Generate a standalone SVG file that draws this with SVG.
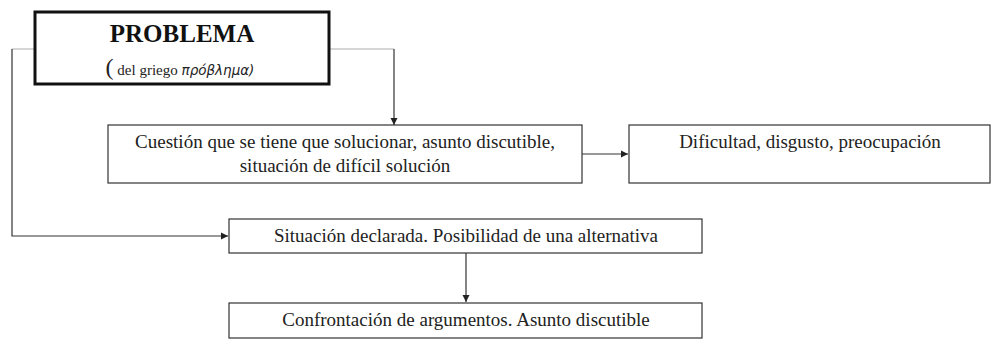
<svg xmlns="http://www.w3.org/2000/svg" width="992" height="344" viewBox="0 0 992 344">
<style>
.box{fill:#fff;stroke:#333;stroke-width:1.2}
.t{font-family:"Liberation Serif",serif;font-size:19px;fill:#222;text-anchor:middle}
.c{fill:none;stroke:#333;stroke-width:1.2}
.cl{fill:none;stroke:#c8c8c8;stroke-width:1.5}
</style>
<defs>
<marker id="a" markerWidth="8" markerHeight="8" refX="7" refY="4" orient="auto" markerUnits="userSpaceOnUse">
<path d="M0,0.5 L7,4 L0,7.5 Z" fill="#222"/>
</marker>
</defs>
<g id="connectors">
<path class="cl" d="M35,49 H12"/>
<path class="c" d="M12,49 V236 H228" marker-end="url(#a)"/>
<path class="cl" d="M329,49 H394"/>
<path class="c" d="M394,49 V125" marker-end="url(#a)" stroke="#666"/>
<path class="c" d="M582,154 H628" marker-end="url(#a)"/>
<path class="c" d="M466,253 V302" marker-end="url(#a)"/>
</g>
<g id="problema">
<rect x="35" y="12" width="294" height="72" fill="#fff" stroke="#111" stroke-width="3"/>
<text x="182" y="42" class="t" style="font-size:25px;font-weight:bold;fill:#111">PROBLEMA</text>
<text x="180" y="75" class="t" style="font-size:15px"><tspan style="font-size:24px">(</tspan> del griego <tspan style="font-family:'DejaVu Sans',sans-serif;font-style:italic;font-size:13.5px">πρόβλημα)</tspan></text>
</g>
<g id="cuestion">
<rect class="box" x="108" y="125" width="474" height="58"/>
<text x="345" y="148" class="t">Cuestión que se tiene que solucionar, asunto discutible,</text>
<text x="345" y="172" class="t">situación de difícil solución</text>
</g>
<g id="dificultad">
<rect class="box" x="629" y="125" width="361" height="58"/>
<text x="810" y="148" class="t">Dificultad, disgusto, preocupación</text>
</g>
<g id="situacion">
<rect class="box" x="229" y="219" width="473" height="34"/>
<text x="466" y="242" class="t">Situación declarada. Posibilidad de una alternativa</text>
</g>
<g id="confrontacion">
<rect class="box" x="229" y="303" width="473" height="35"/>
<text x="466" y="326" class="t">Confrontación de argumentos. Asunto discutible</text>
</g>
</svg>
